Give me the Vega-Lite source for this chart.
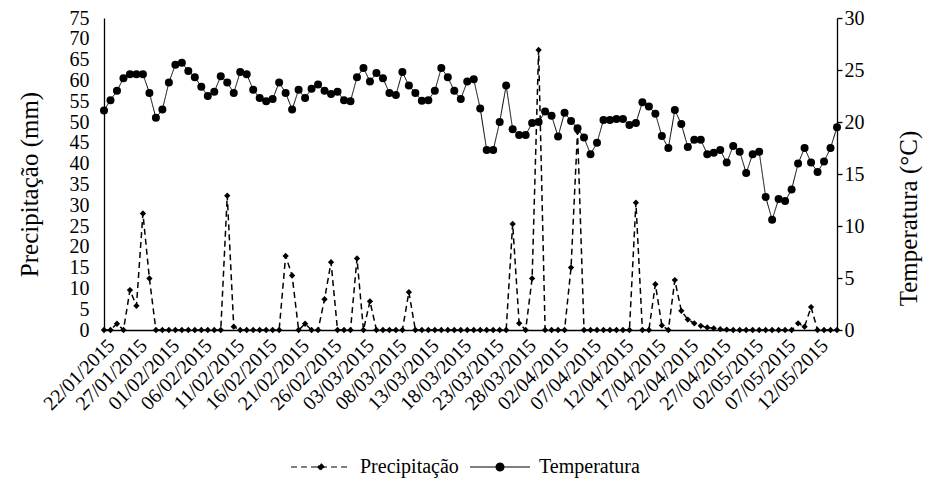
{
  "$schema": "https://vega.github.io/schema/vega-lite/v6.json",
  "width": 733,
  "height": 312,
  "autosize": {"type": "none"},
  "padding": {"left": 104, "top": 18, "right": 94, "bottom": 154},
  "background": "white",
  "config": {
    "view": {"stroke": null},
    "font": "Liberation Serif",
    "axis": {"labelFont": "Liberation Serif", "titleFont": "Liberation Serif", "labelColor": "black", "titleColor": "black", "domainColor": "black", "tickColor": "black", "grid": false, "domainWidth": 1.3, "tickWidth": 1.3, "titleFontWeight": "normal", "labelOverlap": false},
    "legend": {"labelFont": "Liberation Serif", "labelColor": "black"}
  },
  "data": {"values": [
    {"d": "22/01/2015", "p": 0, "t": 21.1},
    {"d": "23/01/2015", "p": 0, "t": 22.1},
    {"d": "24/01/2015", "p": 1.5, "t": 23.0},
    {"d": "25/01/2015", "p": 0, "t": 24.2},
    {"d": "26/01/2015", "p": 9.6, "t": 24.6},
    {"d": "27/01/2015", "p": 5.8, "t": 24.6},
    {"d": "28/01/2015", "p": 28.0, "t": 24.6},
    {"d": "29/01/2015", "p": 12.4, "t": 22.8},
    {"d": "30/01/2015", "p": 0, "t": 20.4},
    {"d": "31/01/2015", "p": 0, "t": 21.2},
    {"d": "01/02/2015", "p": 0, "t": 23.8},
    {"d": "02/02/2015", "p": 0, "t": 25.5},
    {"d": "03/02/2015", "p": 0, "t": 25.7},
    {"d": "04/02/2015", "p": 0, "t": 24.9},
    {"d": "05/02/2015", "p": 0, "t": 24.3},
    {"d": "06/02/2015", "p": 0, "t": 23.4},
    {"d": "07/02/2015", "p": 0, "t": 22.5},
    {"d": "08/02/2015", "p": 0, "t": 22.9},
    {"d": "09/02/2015", "p": 0, "t": 24.4},
    {"d": "10/02/2015", "p": 32.3, "t": 23.8},
    {"d": "11/02/2015", "p": 0.8, "t": 22.8},
    {"d": "12/02/2015", "p": 0, "t": 24.8},
    {"d": "13/02/2015", "p": 0, "t": 24.6},
    {"d": "14/02/2015", "p": 0, "t": 23.1},
    {"d": "15/02/2015", "p": 0, "t": 22.3},
    {"d": "16/02/2015", "p": 0, "t": 22.0},
    {"d": "17/02/2015", "p": 0, "t": 22.2},
    {"d": "18/02/2015", "p": 0, "t": 23.8},
    {"d": "19/02/2015", "p": 17.8, "t": 22.8},
    {"d": "20/02/2015", "p": 13.1, "t": 21.2},
    {"d": "21/02/2015", "p": 0, "t": 23.1},
    {"d": "22/02/2015", "p": 1.5, "t": 22.3},
    {"d": "23/02/2015", "p": 0, "t": 23.2},
    {"d": "24/02/2015", "p": 0, "t": 23.6},
    {"d": "25/02/2015", "p": 7.4, "t": 23.0},
    {"d": "26/02/2015", "p": 16.3, "t": 22.7},
    {"d": "27/02/2015", "p": 0, "t": 22.9},
    {"d": "28/02/2015", "p": 0, "t": 22.1},
    {"d": "01/03/2015", "p": 0, "t": 22.0},
    {"d": "02/03/2015", "p": 17.2, "t": 24.3},
    {"d": "03/03/2015", "p": 0, "t": 25.2},
    {"d": "04/03/2015", "p": 6.9, "t": 23.9},
    {"d": "05/03/2015", "p": 0, "t": 24.7},
    {"d": "06/03/2015", "p": 0, "t": 24.2},
    {"d": "07/03/2015", "p": 0, "t": 22.8},
    {"d": "08/03/2015", "p": 0, "t": 22.6},
    {"d": "09/03/2015", "p": 0, "t": 24.8},
    {"d": "10/03/2015", "p": 9.1, "t": 23.5},
    {"d": "11/03/2015", "p": 0, "t": 22.8},
    {"d": "12/03/2015", "p": 0, "t": 22.05},
    {"d": "13/03/2015", "p": 0, "t": 22.1},
    {"d": "14/03/2015", "p": 0, "t": 23.0},
    {"d": "15/03/2015", "p": 0, "t": 25.2},
    {"d": "16/03/2015", "p": 0, "t": 24.3},
    {"d": "17/03/2015", "p": 0, "t": 23.0},
    {"d": "18/03/2015", "p": 0, "t": 22.2},
    {"d": "19/03/2015", "p": 0, "t": 23.9},
    {"d": "20/03/2015", "p": 0, "t": 24.1},
    {"d": "21/03/2015", "p": 0, "t": 21.3},
    {"d": "22/03/2015", "p": 0, "t": 17.3},
    {"d": "23/03/2015", "p": 0, "t": 17.3},
    {"d": "24/03/2015", "p": 0, "t": 20.0},
    {"d": "25/03/2015", "p": 0, "t": 23.5},
    {"d": "26/03/2015", "p": 25.5, "t": 19.3},
    {"d": "27/03/2015", "p": 1.6, "t": 18.75},
    {"d": "28/03/2015", "p": 0, "t": 18.75},
    {"d": "29/03/2015", "p": 12.4, "t": 19.9},
    {"d": "30/03/2015", "p": 67.3, "t": 20.0},
    {"d": "31/03/2015", "p": 0, "t": 21.0},
    {"d": "01/04/2015", "p": 0, "t": 20.6},
    {"d": "02/04/2015", "p": 0, "t": 18.6},
    {"d": "03/04/2015", "p": 0, "t": 20.9},
    {"d": "04/04/2015", "p": 15.0, "t": 20.1},
    {"d": "05/04/2015", "p": 47.7, "t": 19.4},
    {"d": "06/04/2015", "p": 0, "t": 18.5},
    {"d": "07/04/2015", "p": 0, "t": 16.9},
    {"d": "08/04/2015", "p": 0, "t": 18.0},
    {"d": "09/04/2015", "p": 0, "t": 20.2},
    {"d": "10/04/2015", "p": 0, "t": 20.2},
    {"d": "11/04/2015", "p": 0, "t": 20.3},
    {"d": "12/04/2015", "p": 0, "t": 20.3},
    {"d": "13/04/2015", "p": 0, "t": 19.7},
    {"d": "14/04/2015", "p": 30.6, "t": 19.9},
    {"d": "15/04/2015", "p": 0, "t": 21.9},
    {"d": "16/04/2015", "p": 0, "t": 21.5},
    {"d": "17/04/2015", "p": 11.0, "t": 20.8},
    {"d": "18/04/2015", "p": 1.1, "t": 18.65},
    {"d": "19/04/2015", "p": 0, "t": 17.5},
    {"d": "20/04/2015", "p": 12.0, "t": 21.15},
    {"d": "21/04/2015", "p": 4.6, "t": 19.8},
    {"d": "22/04/2015", "p": 2.5, "t": 17.6},
    {"d": "23/04/2015", "p": 1.6, "t": 18.3},
    {"d": "24/04/2015", "p": 1.0, "t": 18.3},
    {"d": "25/04/2015", "p": 0.6, "t": 16.9},
    {"d": "26/04/2015", "p": 0.4, "t": 17.05},
    {"d": "27/04/2015", "p": 0.2, "t": 17.3},
    {"d": "28/04/2015", "p": 0.1, "t": 16.1},
    {"d": "29/04/2015", "p": 0, "t": 17.7},
    {"d": "30/04/2015", "p": 0, "t": 17.15},
    {"d": "01/05/2015", "p": 0, "t": 15.1},
    {"d": "02/05/2015", "p": 0, "t": 16.9},
    {"d": "03/05/2015", "p": 0, "t": 17.15},
    {"d": "04/05/2015", "p": 0, "t": 12.8},
    {"d": "05/05/2015", "p": 0, "t": 10.6},
    {"d": "06/05/2015", "p": 0, "t": 12.6},
    {"d": "07/05/2015", "p": 0, "t": 12.4},
    {"d": "08/05/2015", "p": 0, "t": 13.5},
    {"d": "09/05/2015", "p": 1.6, "t": 16.0},
    {"d": "10/05/2015", "p": 0.8, "t": 17.5},
    {"d": "11/05/2015", "p": 5.5, "t": 16.1},
    {"d": "12/05/2015", "p": 0, "t": 15.2},
    {"d": "13/05/2015", "p": 0, "t": 16.2},
    {"d": "14/05/2015", "p": 0, "t": 17.5},
    {"d": "15/05/2015", "p": 0, "t": 19.5}
  ]},
  "encoding": {
    "x": {
      "field": "d", "type": "ordinal", "sort": null,
      "scale": {"type": "point", "padding": 0},
      "axis": {
        "title": null,
        "values": ["22/01/2015","27/01/2015","01/02/2015","06/02/2015","11/02/2015","16/02/2015","21/02/2015","26/02/2015","03/03/2015","08/03/2015","13/03/2015","18/03/2015","23/03/2015","28/03/2015","02/04/2015","07/04/2015","12/04/2015","17/04/2015","22/04/2015","27/04/2015","02/05/2015","07/05/2015","12/05/2015"],
        "labelAngle": -45, "labelFontSize": 20, "ticks": false, "labelPadding": 5, "labelOverlap": false, "labelBound": false, "labelFlush": false
      }
    }
  },
  "layer": [
    {
      "encoding": {
        "y": {
          "field": "p", "type": "quantitative",
          "scale": {"domain": [0, 75], "nice": false},
          "axis": {"title": "Precipitação (mm)", "titleFont": "Liberation Serif", "values": [0,5,10,15,20,25,30,35,40,45,50,55,60,65,70,75], "labelOverlap": false, "labelFontSize": 20, "titleFontSize": 25, "ticks": false, "labelPadding": 15, "titlePadding": 27, "titleY": 166}
        }
      },
      "layer": [
        {
          "mark": {"type": "line", "color": "black", "strokeWidth": 1.5},
          "encoding": {
            "strokeDash": {
              "datum": "Precipitação", "type": "nominal",
              "scale": {"domain": ["Precipitação", "Temperatura"], "range": [[6, 4], [1, 0]]},
              "legend": {
                "title": null, "orient": "none", "legendX": 186, "legendY": 418, "direction": "horizontal",
                "labelFont": "Liberation Serif", "labelFontSize": 20, "symbolSize": 3600, "symbolStrokeWidth": 1, "symbolStrokeColor": "black",
                "columnPadding": 8, "labelOffset": 8, "padding": 0,
                "encode": {"symbols": {"update": {
                  "shape": {"signal": "datum.value === 'Precipitação' ? 'M-1,0H1M0,-0.11L0.11,0L0,0.11L-0.11,0Z' : 'M-1,0H1M-0.13,0A0.13,0.13 0 1,0 0.13,0A0.13,0.13 0 1,0 -0.13,0Z'"},
                  "fill": {"value": "black"}, "stroke": {"value": "black"}, "size": {"value": 3600}, "strokeWidth": {"value": 1.2}
                }}}
              }
            }
          }
        },
        {
          "mark": {"type": "point", "shape": "diamond", "filled": true, "color": "black", "size": 40, "opacity": 1}
        }
      ]
    },
    {
      "encoding": {
        "y": {
          "field": "t", "type": "quantitative",
          "scale": {"domain": [0, 30], "nice": false},
          "axis": {"orient": "right", "title": "Temperatura (°C)", "titleFont": "Liberation Serif", "values": [0,5,10,15,20,25,30], "labelOverlap": false, "labelFontSize": 20, "titleFontSize": 25, "tickSize": 5, "labelPadding": 2, "titlePadding": 57, "titleAngle": 270, "titleY": 200}
        }
      },
      "layer": [
        {
          "mark": {"type": "line", "color": "black", "strokeWidth": 1},
          "encoding": {"strokeDash": {"datum": "Temperatura", "type": "nominal"}}
        },
        {
          "mark": {"type": "point", "shape": "circle", "filled": true, "color": "black", "size": 64, "opacity": 1}
        }
      ]
    }
  ],
  "resolve": {"scale": {"y": "independent"}}
}
